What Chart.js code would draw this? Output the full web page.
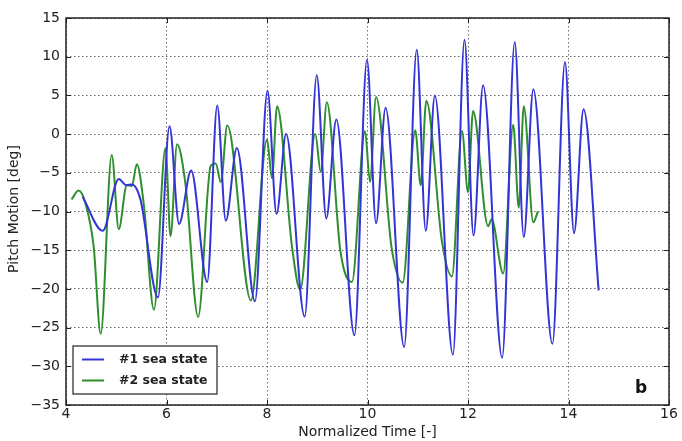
<!DOCTYPE html>
<html>
<head>
<meta charset="utf-8">
<script src="https://cdn.jsdelivr.net/npm/chart.js@4/dist/chart.umd.min.js"></script>
<style>
  html, body { margin: 0; padding: 0; background: #fff; }
  #wrap { width: 682px; height: 441px; }
</style>
</head>
<body>
<div id="wrap"><canvas id="myChart" width="682" height="441"></canvas></div>
<script>
// series #1 (blue): extremes and shoulders
const blueX = [4.33, 4.73, 5.05, 5.2, 5.31, 5.48, 5.83, 6.06, 6.25, 6.49, 6.81, 7.01, 7.18, 7.4, 7.76,
  8.01, 8.19, 8.38, 8.75, 8.99, 9.18, 9.38, 9.74, 9.99, 10.17, 10.36, 10.73, 10.98, 11.16, 11.34, 11.7,
  11.93, 12.11, 12.3, 12.68, 12.93, 13.11, 13.3, 13.68, 13.93, 14.11, 14.3, 14.6];
const blueY = [-8.1, -12.5, -5.8, -6.6, -6.5, -8.4, -21.1, 1.0, -11.6, -4.7, -19.1, 3.7, -11.2, -1.8, -21.6,
  5.6, -10.3, 0.0, -23.6, 7.6, -10.9, 1.9, -26.0, 9.6, -11.5, 3.4, -27.5, 10.9, -12.5, 5.0, -28.5,
  12.2, -13.1, 6.3, -28.9, 11.9, -13.3, 5.8, -27.1, 9.3, -12.8, 3.2, -20.2];

// series #2 (green)
const greenX = [4.11, 4.25, 4.38, 4.55, 4.69, 4.91, 5.05, 5.21, 5.31, 5.41, 5.55, 5.75, 5.98, 6.08, 6.21,
  6.38, 6.63, 6.88, 6.98, 7.08, 7.21, 7.68, 8.0, 8.1, 8.2, 8.5, 8.66, 8.96, 9.07, 9.19, 9.46, 9.69,
  9.95, 10.05, 10.17, 10.48, 10.7, 10.95, 11.06, 11.17, 11.48, 11.68, 11.88, 12.0, 12.1, 12.4, 12.47,
  12.7, 12.9, 13.01, 13.11, 13.3, 13.39];
const greenY = [-8.45, -7.3, -8.8, -14.5, -25.8, -2.7, -12.3, -6.6, -6.7, -3.9, -9.2, -22.7, -1.8, -13.2, -1.3,
  -6.6, -23.6, -4.1, -3.8, -6.2, 1.1, -21.5, -0.7, -5.7, 3.6, -14.7, -20.1, 0.0, -4.9, 4.1, -15.1, -19.1,
  0.4, -6.2, 4.8, -14.7, -19.2, 0.5, -6.6, 4.3, -13.8, -18.4, 0.4, -7.5, 3.0, -11.9, -11.0,
  -18.0, 1.2, -9.5, 3.6, -11.4, -10.0];

const xTicks = [4, 6, 8, 10, 12, 14, 16];
const yTicks = [15, 10, 5, 0, -5, -10, -15, -20, -25, -30, -35];
const seriesNames = ['#1 sea state', '#2 sea state'];
const seriesColors = ['#3434d6', '#2f8f2f'];

function pts(xs, ys) {
  var out = [];
  for (var i = 0; i < xs.length; i++) out.push({x: xs[i], y: ys[i]});
  return out;
}

const FONT = 'DejaVu Sans';
const TXT = '#222';

// frame, inward ticks, legend box, y title and panel letter
const extras = {
  id: 'extras',
  afterDraw(chart) {
    const ctx = chart.ctx;
    const a = chart.chartArea;
    const xs = chart.scales.x, ys = chart.scales.y;
    ctx.save();
    ctx.strokeStyle = '#222';
    ctx.lineWidth = 1.5;
    ctx.strokeRect(a.left, a.top, a.right - a.left, a.bottom - a.top);
    ctx.lineWidth = 1;
    xTicks.forEach(function (v) {
      const p = Math.round(xs.getPixelForValue(v)) + 0.5;
      ctx.beginPath();
      ctx.moveTo(p, a.bottom); ctx.lineTo(p, a.bottom - 5);
      ctx.moveTo(p, a.top); ctx.lineTo(p, a.top + 5);
      ctx.stroke();
    });
    yTicks.forEach(function (v) {
      const p = Math.round(ys.getPixelForValue(v)) + 0.5;
      ctx.beginPath();
      ctx.moveTo(a.left, p); ctx.lineTo(a.left + 5, p);
      ctx.moveTo(a.right, p); ctx.lineTo(a.right - 5, p);
      ctx.stroke();
    });

    // legend
    ctx.fillStyle = '#fff';
    ctx.fillRect(73, 346, 144, 48);
    ctx.strokeStyle = '#222';
    ctx.lineWidth = 1.2;
    ctx.strokeRect(73, 346, 144, 48);
    ctx.font = 'bold 12.5px "' + FONT + '"';
    ctx.textBaseline = 'middle';
    ctx.textAlign = 'left';
    [359.5, 380.5].forEach(function (y, i) {
      ctx.strokeStyle = seriesColors[i];
      ctx.lineWidth = 2;
      ctx.beginPath();
      ctx.moveTo(82, y); ctx.lineTo(104, y);
      ctx.stroke();
      ctx.fillStyle = TXT;
      ctx.fillText(seriesNames[i], 119, y);
    });

    // y axis title
    ctx.save();
    ctx.translate(14, 209);
    ctx.rotate(-Math.PI / 2);
    ctx.textAlign = 'center';
    ctx.font = '14px "' + FONT + '"';
    ctx.fillStyle = TXT;
    ctx.fillText('Pitch Motion [deg]', 0, 0);
    ctx.restore();

    ctx.font = 'bold 17px "' + FONT + '"';
    ctx.textAlign = 'center';
    ctx.fillStyle = '#111';
    ctx.fillText('b', 641, 389);
    ctx.restore();
  }
};

const config = {
  type: 'line',
  data: {
    datasets: [{
      label: seriesNames[0],
      data: pts(blueX, blueY),
      borderColor: seriesColors[0],
      borderWidth: 2,
      pointRadius: 0,
      cubicInterpolationMode: 'monotone'
    }, {
      label: seriesNames[1],
      data: pts(greenX, greenY),
      borderColor: seriesColors[1],
      borderWidth: 2,
      pointRadius: 0,
      cubicInterpolationMode: 'monotone'
    }]
  },
  options: {
    responsive: false,
    animation: false,
    layout: { padding: { top: 18, right: 13, left: 0, bottom: 0 } },
    plugins: { legend: { display: false }, tooltip: { enabled: false } },
    scales: {
      x: {
        type: 'linear',
        min: 4, max: 16,
        afterBuildTicks: function (s) { s.ticks = xTicks.map(function (v) { return {value: v}; }); },
        afterFit: function (s) { s.height = 36; },
        grid: { color: '#666', drawTicks: false },
        border: { display: false, dash: [1.5, 2.5] },
        ticks: { padding: 1, color: TXT, font: { family: FONT, size: 14 }, maxRotation: 0 },
        title: { display: true, text: 'Normalized Time [-]', color: TXT,
          font: { family: FONT, size: 14 }, padding: { top: 0, bottom: 0 } }
      },
      y: {
        min: -35, max: 15,
        afterBuildTicks: function (s) { s.ticks = yTicks.map(function (v) { return {value: v}; }); },
        afterFit: function (s) { s.width = 66; },
        grid: { color: '#666', drawTicks: false },
        border: { display: false, dash: [1.5, 2.5] },
        ticks: { padding: 6, color: TXT, font: { family: FONT, size: 14 },
          callback: function (v) { return String(v).replace('-', '\u2212'); } }
      }
    }
  },
  plugins: [extras]
};

const myChart = new Chart(document.getElementById('myChart'), config);
</script>
</body>
</html>
